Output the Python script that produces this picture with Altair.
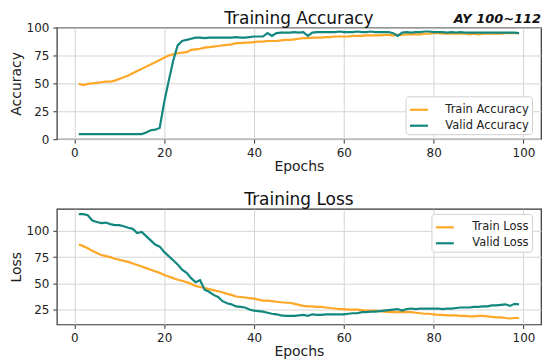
import altair as alt
import pandas as pd

epochs = list(range(1, 100))

train_acc = [49.5, 48.5, 49.5, 50, 50.5, 51, 51.5, 51.5, 52.5, 54,
             55.5, 57, 59, 61, 63, 65, 67, 69, 71, 73,
             75, 76, 77, 77.5, 78, 80, 80.5, 81, 82, 82.5,
             83, 83.5, 84, 84.5, 85, 86, 86, 86.5, 86.5, 87,
             87.5, 87.5, 88, 88, 88, 88.5, 89, 89, 89.5, 90,
             90.5, 90.5, 91, 91, 91, 91.5, 91.5, 92, 92, 92,
             92, 92.5, 92.5, 92.5, 93, 93, 93, 93, 93.5, 93.5,
             93, 93.5, 93.5, 94, 94, 94, 94, 94.5, 94.5, 95,
             95, 94.5, 94.5, 94.5, 94.5, 94.5, 94.5, 94, 94.5, 94,
             94.5, 94.5, 94.5, 94.5, 94.5, 95, 95, 95, 95]

valid_acc = [4.5, 4.5, 4.5, 4.5, 4.5, 4.5, 4.5, 4.5, 4.5, 4.5,
             4.5, 4.5, 4.5, 4.5, 4.5, 6, 8, 8.5, 10, 33,
             52, 70, 84, 88, 89, 90, 91, 91, 90.5, 91,
             91, 91, 91, 91, 91, 91.5, 91, 91, 91.5, 92,
             92, 92, 95, 92.5, 95, 95.5, 95.5, 95.5, 96, 95.5,
             96, 92.5, 95.5, 96, 96, 96, 96, 96, 96.5, 96,
             96, 96, 96.5, 96, 96, 96.5, 96, 96, 96, 96,
             95, 92.5, 95.5, 96, 95.5, 96, 96, 96.5, 96.5, 96,
             96, 96, 95.5, 96, 95.5, 96, 95.5, 95.5, 95.5, 95.5,
             95.5, 95.5, 95.5, 95.5, 95.5, 95.5, 95.5, 95.5, 95]

train_loss = [87, 85.5, 83.5, 81, 79, 77, 76, 75, 73.5, 72.5,
              71.5, 70.5, 69, 67.5, 66, 64.5, 63, 61.5, 60, 58,
              56.5, 55, 53.5, 52.5, 51, 49.5, 47.5, 46.5, 45.5, 44.5,
              43.5, 42.5, 41.5, 40, 39, 37.5, 37, 36.5, 36, 35.5,
              34.5, 33.5, 33.5, 33, 32.5, 32, 31.5, 31.5, 30.5, 29.5,
              28.5, 28, 28, 27.5, 27.5, 27, 26.5, 26, 25.5, 25.5,
              25, 25, 25, 24.5, 24, 24, 24, 23.5, 23, 22.5,
              22.5, 22.5, 22.5, 22.5, 22.5, 22, 21.5, 21, 21, 20.5,
              20, 20, 19.5, 19.5, 19.5, 19, 19, 18.5, 18.5, 19,
              19, 18.5, 18, 17.5, 17.5, 17, 16.5, 17, 17]

valid_loss = [116, 116, 115, 110, 108.5, 107.5, 108, 106.5, 105.5, 105.5,
              104.5, 103, 102, 98, 99, 95, 91, 87, 85, 80,
              76, 72, 68, 63, 60, 55, 51, 53, 44, 42,
              39, 37, 33, 31, 30, 28, 27.5, 27, 25, 24,
              23.5, 23, 22, 21, 20.5, 19.5, 19, 19, 19, 19.5,
              20, 19, 20.5, 20, 20, 20.5, 20.5, 20.5, 20.5, 20.5,
              21, 21.5, 21.5, 22.5, 22.5, 23, 23, 23.5, 24, 24.5,
              25, 25.5, 24, 25.5, 26, 25.5, 26, 26, 26, 26,
              26, 25.5, 26, 26, 26.5, 27, 27, 27, 27.5, 27.5,
              28, 28, 29, 29, 29.5, 30, 28.5, 30.5, 30]

acc_series = ["Train Accuracy", "Valid Accuracy"]
loss_series = ["Train Loss", "Valid Loss"]
x_ticks = [0, 20, 40, 60, 80, 100]
acc_ticks = [0, 25, 50, 75, 100]
loss_ticks = [25, 50, 75, 100]
titles = ["Training Accuracy", "Training Loss"]
annotation = ["AY 100~112"]

ORANGE = "#FFA726"
TEAL = "#12877f"
FONT = "DejaVu Sans"
W = 486

acc_df = pd.DataFrame({
    "epoch": epochs * 2,
    "value": train_acc + valid_acc,
    "series": [acc_series[0]] * 99 + [acc_series[1]] * 99,
})
loss_df = pd.DataFrame({
    "epoch": epochs * 2,
    "value": train_loss + valid_loss,
    "series": [loss_series[0]] * 99 + [loss_series[1]] * 99,
})

x_enc = alt.X("epoch:Q", title="Epochs",
              scale=alt.Scale(domain=[-3.9, 103.9], nice=False, zero=False),
              axis=alt.Axis(values=x_ticks))

legend_common = dict(title=None, orient="none", symbolType="stroke",
                     symbolSize=324, symbolStrokeWidth=2.2,
                     labelFontSize=11.5, labelFont=FONT, labelColor="#222",
                     fillColor="white", strokeColor="#cfcfcf", cornerRadius=3,
                     padding=3, rowPadding=0)


def text_layer(label, x, y, align, size, weight="normal", style="normal"):
    return alt.Chart(pd.DataFrame({"label": [label]})).mark_text(
        align=align, baseline="alphabetic", font=FONT, fontSize=size,
        fontWeight=weight, fontStyle=style, color="#111"
    ).encode(text="label:N", x=alt.value(x), y=alt.value(y))


acc_lines = alt.Chart(acc_df).mark_line(strokeWidth=2.2).encode(
    x=x_enc,
    y=alt.Y("value:Q", title="Accuracy",
            scale=alt.Scale(domain=[0, 100], nice=False),
            axis=alt.Axis(values=acc_ticks)),
    color=alt.Color("series:N",
                    scale=alt.Scale(domain=acc_series, range=[ORANGE, TEAL]),
                    legend=alt.Legend(legendX=350, legendY=69, labelOffset=16,
                                      **legend_common)),
)

top = alt.layer(
    acc_lines,
    text_layer(titles[0], W / 2, -4, "center", 17),
    text_layer(annotation[0], W, -5, "right", 13, "bold", "italic"),
).properties(width=W, height=112)

loss_lines = alt.Chart(loss_df).mark_line(strokeWidth=2.2).encode(
    x=x_enc,
    y=alt.Y("value:Q", title="Loss",
            scale=alt.Scale(domain=[10.8, 121], nice=False, zero=False),
            axis=alt.Axis(values=loss_ticks)),
    color=alt.Color("series:N",
                    scale=alt.Scale(domain=loss_series, range=[ORANGE, TEAL]),
                    legend=alt.Legend(legendX=376, legendY=5, labelOffset=17,
                                      **legend_common)),
)

bottom = alt.layer(
    loss_lines,
    text_layer(titles[1], W / 2, -4, "center", 17),
).properties(width=W, height=116)

chart = alt.vconcat(top, bottom, spacing=16).resolve_scale(
    color="independent", y="independent"
).resolve_legend(color="independent").properties(
    padding={"left": 0, "top": 0, "right": 0, "bottom": 0},
    background="white",
).configure_view(
    stroke="#333", strokeWidth=1.2
).configure_axis(
    labelFont=FONT, titleFont=FONT, labelFontSize=12, titleFontSize=14,
    labelColor="#222", titleColor="#222", titleFontWeight="normal",
    gridColor="#d4d4d4", gridWidth=1, domain=False,
    tickColor="#333", tickSize=4, labelPadding=4,
).configure_axisY(
    titlePadding=3
).configure_axisX(
    titlePadding=1
)

chart.save("out.html", embed_options={"renderer": "svg", "actions": False})
